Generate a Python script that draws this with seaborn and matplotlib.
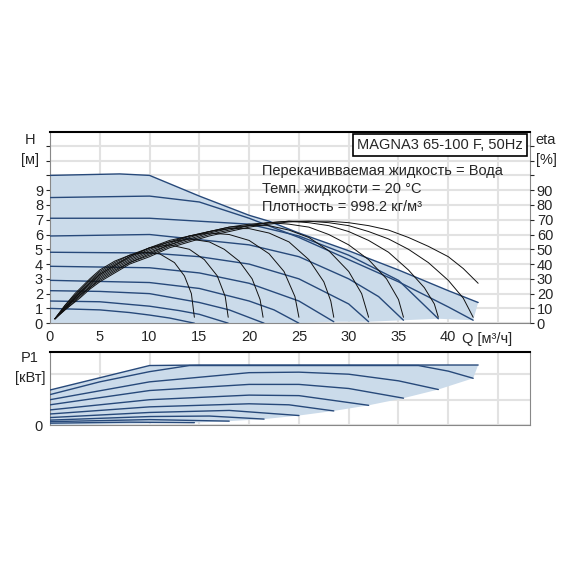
import numpy as np
import matplotlib
matplotlib.use('Agg')
import matplotlib.pyplot as plt
import seaborn as sns

sns.set_style('white')
plt.rcParams['font.family'] = ['Liberation Sans', 'DejaVu Sans']
plt.rcParams['font.size'] = 10

# ---------------- data ----------------
# H curves (Q [m3/h], H [m]) for the speed steps, lowest first, then max
h_curves = [
    ([0, 5, 8, 10, 12, 14.5], [1.0, 0.9, 0.72, 0.55, 0.35, 0.0]),
    ([0, 5, 10, 13, 15, 17.9], [1.5, 1.45, 1.15, 0.85, 0.6, 0.0]),
    ([0, 5, 10, 15, 18, 21.5], [2.2, 2.15, 2.0, 1.4, 0.9, 0.0]),
    ([0, 10, 15, 20, 22.5, 25], [2.9, 2.75, 2.35, 1.5, 0.9, 0.0]),
    ([0, 10, 15, 20, 25, 28.5], [3.85, 3.75, 3.4, 2.7, 1.5, 0.1]),
    ([0, 10, 15, 20, 25, 30, 32], [4.8, 4.75, 4.5, 4.0, 3.0, 1.3, 0.1]),
    ([0, 10, 20, 25, 30, 33, 35.5], [5.9, 6.0, 5.3, 4.5, 3.0, 1.8, 0.2]),
    ([0, 10, 20, 25, 30, 35, 39], [7.1, 7.1, 6.7, 5.9, 4.6, 2.9, 0.3]),
    ([0, 10, 15, 20, 25, 30, 35, 40, 42.5], [8.5, 8.6, 8.2, 7.1, 5.8, 4.3, 2.8, 1.1, 0.2]),
]
h_max_q = [0, 7, 10, 15, 20, 22, 25, 30, 35, 40, 43]
h_max_h = [10.0, 10.1, 10.0, 8.6, 7.3, 6.9, 6.1, 4.9, 3.6, 2.2, 1.4]

# efficiency curves (Q, eta %)
eta_curves = [
    ([0.5, 1.5, 2.5, 4, 5, 6.5, 8, 9.5, 11, 12.5, 13.5, 14.2, 14.5],
     [3, 12, 20, 30, 36, 42, 46, 48, 47, 41, 32, 20, 4]),
    ([0.5, 1.5, 2.5, 4, 5, 6.5, 8, 10, 12, 14, 15.5, 16.8, 17.6, 17.9],
     [3, 12, 19, 29, 35, 41, 46, 51, 53, 50, 43, 32, 18, 4]),
    ([0.5, 1.5, 2.5, 4, 5, 6.5, 8, 10, 12, 14, 16, 17.5, 19, 20.3, 21.1, 21.4],
     [3, 11, 18, 28, 34, 40, 45, 51, 55, 57, 55, 50, 42, 30, 16, 4]),
    ([0.5, 1.5, 2.5, 4, 5, 6.5, 8, 10, 12, 14, 16, 18, 20, 22, 23.5, 24.6, 25],
     [3, 11, 18, 27, 33, 39, 45, 51, 56, 59, 61, 60, 56, 47, 35, 18, 4]),
    ([0.5, 1.5, 2.5, 4, 5, 6.5, 8, 10, 12, 14, 16, 18, 20, 22, 24, 26, 27.5, 28.2, 28.5],
     [3, 10, 17, 27, 33, 39, 44, 50, 55, 59, 62, 64, 64, 61, 55, 43, 28, 15, 4]),
    ([0.5, 1.5, 2.5, 4, 5, 6.5, 8, 10, 12, 14, 16, 18, 20, 22, 24, 26, 28, 30, 31.3, 32],
     [3, 10, 17, 26, 32, 38, 43, 49, 54, 59, 62, 65, 66, 66, 63, 58, 49, 35, 20, 4]),
    ([0.5, 1.5, 2.5, 4, 5, 6.5, 8, 10, 12, 14, 16, 18, 20, 22, 24, 26, 28, 30, 32, 33.8, 35, 35.5],
     [3, 10, 16, 25, 31, 37, 42, 48, 53, 58, 62, 65, 67, 68, 67, 65, 60, 53, 43, 30, 16, 4]),
    ([0.5, 1.5, 3, 4, 5, 6.5, 8, 10, 12, 14, 16, 18, 20, 22, 24, 26, 28, 30, 32, 34, 36, 37.6, 38.6, 39],
     [3, 10, 19, 24, 30, 36, 41, 47, 53, 57, 61, 64, 66, 68, 69, 68, 66, 62, 56, 48, 36, 24, 13, 4]),
    ([0.5, 1.5, 3, 4, 5, 6.5, 8, 10, 12, 14, 16, 18, 20, 22, 24, 26, 28, 30, 32, 34, 36, 38, 40, 41.5, 42.5],
     [3, 9, 18, 24, 29, 35, 41, 46, 52, 56, 60, 63, 66, 68, 69, 69, 68, 66, 62, 57, 50, 41, 29, 17, 4]),
    ([0.5, 1.5, 3, 4, 5, 6.5, 8, 10, 12, 14, 16, 18, 20, 22, 24, 26, 28, 30, 32, 34, 36, 38, 40, 41.5, 43],
     [3, 9, 17, 23, 28, 34, 40, 45, 51, 55, 59, 62, 65, 67, 68.5, 69, 69, 68, 66, 63, 58, 52, 45, 37, 27]),
]

# power curves (Q, P1 kW relative)
p_curves = [
    ([0, 8, 14.5], [0.04, 0.06, 0.05]),
    ([0, 10, 18], [0.07, 0.11, 0.08]),
    ([0, 10, 16, 21.5], [0.10, 0.17, 0.18, 0.12]),
    ([0, 10, 18, 25], [0.15, 0.25, 0.29, 0.19]),
    ([0, 10, 20, 24, 28.5], [0.22, 0.36, 0.42, 0.40, 0.28]),
    ([0, 10, 20, 25, 32], [0.30, 0.50, 0.59, 0.58, 0.39]),
    ([0, 10, 20, 25, 30, 35.5], [0.40, 0.68, 0.80, 0.80, 0.72, 0.53]),
    ([0, 10, 20, 25, 30, 35, 39], [0.50, 0.85, 1.03, 1.04, 1.00, 0.87, 0.70]),
    ([0, 5, 10, 14, 37, 40, 42.5], [0.60, 0.85, 1.05, 1.17, 1.17, 1.06, 0.92]),
]
p_max_q = [0, 10, 15, 43]
p_max_p = [0.69, 1.17, 1.18, 1.18]

line_col = '#27497a'
fill_col = '#cbdbea'
grid_col = '#e2e2e2'

fig = plt.figure(figsize=(5.7, 5.7), dpi=100)
ax = fig.add_axes([0.0877, 0.433, 0.842, 0.335])
axp = fig.add_axes([0.0877, 0.254, 0.842, 0.128])

# ---------------- top: H / eta ----------------
ends_q = [c[0][-1] for c in h_curves]
ends_h = [c[1][-1] for c in h_curves]
poly_q = h_max_q + ends_q[::-1] + [0]
poly_h = h_max_h + ends_h[::-1] + [0]
ax.fill(poly_q, poly_h, color=fill_col, lw=0, zorder=1)
for q, h in h_curves:
    sns.lineplot(x=q, y=h, ax=ax, color=line_col, lw=1, sort=False, zorder=3)
sns.lineplot(x=h_max_q, y=h_max_h, ax=ax, color=line_col, lw=1, sort=False, zorder=3)
for q, e in eta_curves:
    sns.lineplot(x=q, y=np.array(e) / 10, ax=ax, color='#111111', lw=0.7, sort=False, zorder=4)

ax.set_xlim(0, 48.2)
ax.set_ylim(0, 12.92)
ax.set_xticks(range(0, 50, 5))
ax.set_xticklabels([str(v) if v <= 40 else '' for v in range(0, 50, 5)])
ax.set_yticks(range(0, 13))
ax.set_yticklabels([str(v) if v <= 9 else '' for v in range(0, 13)])
ax.tick_params(axis='both', length=3, pad=2, labelsize=10.5)
ax.grid(True, color=grid_col, lw=1.5, zorder=0)
ax.set_axisbelow(True)
for s in ['left', 'bottom', 'right']:
    ax.spines[s].set_color('#888888')
ax.spines['top'].set_color('black')
ax.spines['top'].set_linewidth(1.5)

axr = ax.twinx()
axr.set_ylim(0, 129.2)
axr.set_yticks(range(0, 130, 10))
axr.set_yticklabels([str(v) if v <= 90 else '' for v in range(0, 130, 10)])
axr.tick_params(axis='y', length=3, pad=2, labelsize=10.5)
for s in axr.spines.values():
    s.set_visible(False)

fig.text(30 / 570, 1 - 140 / 570, 'H', ha='center', va='center', fontsize=10.5)
fig.text(30 / 570, 1 - 160 / 570, '[м]', ha='center', va='center', fontsize=10.5)
fig.text(546 / 570, 1 - 140 / 570, 'eta', ha='center', va='center', fontsize=10.5)
fig.text(546 / 570, 1 - 160 / 570, '[%]', ha='center', va='center', fontsize=10.5)
fig.text(487 / 570, 1 - 339 / 570, 'Q [м³/ч]', ha='center', va='center', fontsize=10.5)

ax.text(0.985, 0.97, 'MAGNA3 65-100 F, 50Hz', transform=ax.transAxes, ha='right', va='top',
        fontsize=10.5, zorder=6,
        bbox=dict(boxstyle='square,pad=0.3', fc='white', ec='black', lw=1.2))
for i, t in enumerate(['Перекачивваемая жидкость = Вода', 'Темп. жидкости = 20 °C',
                       'Плотность = 998.2 кг/м³']):
    ax.text(21.3, 10.3 - i * 1.22, t, ha='left', va='center', fontsize=10.5, zorder=6)

# ---------------- bottom: P1 ----------------
pe_q = [c[0][-1] for c in p_curves]
pe_p = [c[1][-1] for c in p_curves]
axp.fill(p_max_q + pe_q[::-1] + [0, 0], p_max_p + pe_p[::-1] + [0, 0], color=fill_col, lw=0, zorder=1)
for q, p in p_curves:
    sns.lineplot(x=q, y=p, ax=axp, color=line_col, lw=1, sort=False, zorder=3)
sns.lineplot(x=p_max_q, y=p_max_p, ax=axp, color=line_col, lw=1, sort=False, zorder=3)
axp.set_xlim(0, 48.2)
axp.set_ylim(0, 1.43)
axp.set_xticks(range(0, 50, 5))
axp.set_xticklabels([])
axp.set_yticks([0, 0.5, 1.0])
axp.set_yticklabels(['0', '', ''])
axp.tick_params(axis='both', length=3, pad=2, labelsize=10.5)
axp.tick_params(axis='x', length=0)
axp.grid(True, color=grid_col, lw=1.5, zorder=0)
axp.set_axisbelow(True)
for s in ['left', 'bottom', 'right']:
    axp.spines[s].set_color('#888888')
axp.spines['top'].set_color('black')
axp.spines['top'].set_linewidth(1.5)
fig.text(30 / 570, 1 - 358 / 570, 'P1', ha='center', va='center', fontsize=10.5)
fig.text(30 / 570, 1 - 378 / 570, '[кВт]', ha='center', va='center', fontsize=10.5)

fig.savefig('out.png', dpi=100)
